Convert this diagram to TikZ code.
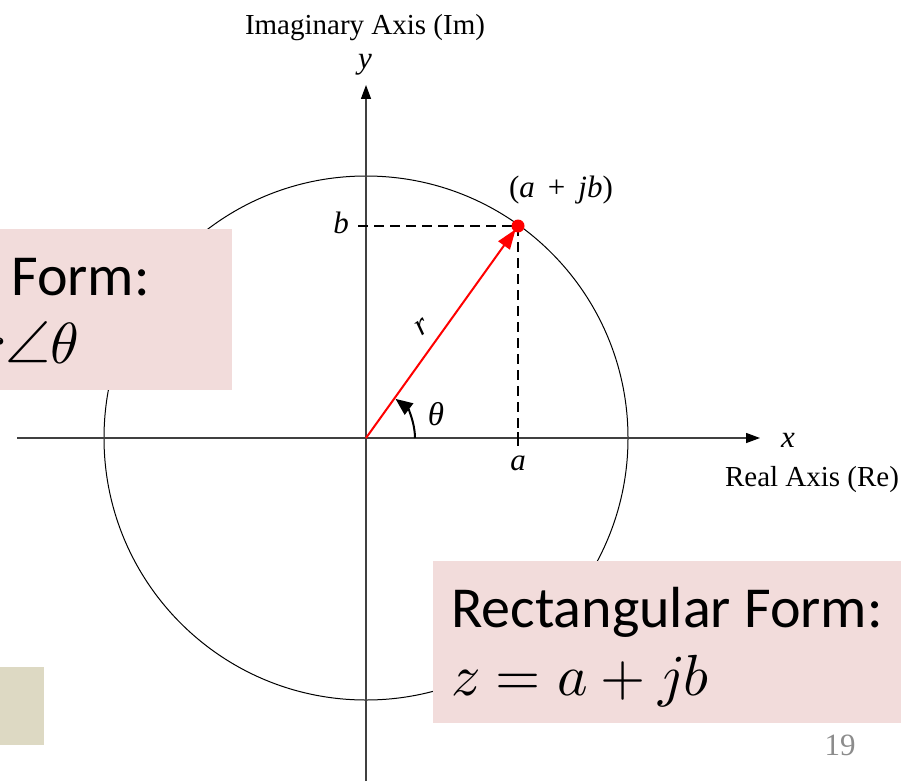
\documentclass[tikz,border=0pt]{standalone}
\usepackage{fontspec}
\usepackage{unicode-math}
\setmathfont{Latin Modern Math}
\setmainfont{Liberation Serif}
\newfontfamily\calibri{Carlito}
\usetikzlibrary{arrows.meta}
\definecolor{pinkbox}{HTML}{F2DCDB}
\definecolor{beigebox}{HTML}{DDD9C3}
\definecolor{axisgray}{HTML}{404040}
\definecolor{pagegray}{HTML}{8C8C8C}
\begin{document}
\begin{tikzpicture}[x=1pt,y=-1pt,
  lbl/.style={font=\fontsize{29}{34}\selectfont, inner sep=0pt},
  varlbl/.style={font=\fontsize{31}{36}\selectfont\itshape, inner sep=0pt},
  boxtxt/.style={font=\calibri\fontsize{58}{70}\selectfont, inner sep=0pt},
  axisline/.style={axisgray, line width=1.3pt, -{Triangle[length=14pt,width=10pt,color=black,fill=black]}},
  dashline/.style={black, line width=1.5pt, dash pattern=on 10pt off 6pt},
  vec/.style={red, line width=2pt, shorten >=4pt, -{Triangle[length=20pt,width=14pt]}},
  anglearrow/.style={black, line width=2pt, -{Triangle[length=17pt,width=14pt]}}]
\useasboundingbox (0,0) rectangle (901,781);
\coordinate (O) at (366,438);
\coordinate (P) at (518,226);
\coordinate (xl) at (17,438);
\coordinate (xr) at (760,438);
\coordinate (yb) at (366,781);
\coordinate (yt) at (366,85);
\coordinate (bt) at (358,226);
\coordinate (at) at (518,432);
\coordinate (tkt) at (518,432);
\coordinate (tkb) at (518,446);
% circle
\draw[black, line width=1pt] (O) circle[radius=262pt];
% axes
\draw[axisline] (xl) -- (xr);
\draw[axisline] (yb) -- (yt);
% projections
\draw[dashline] (bt) -- (P);
\draw[dashline] (P) -- (at);
\draw[black, line width=1.5pt] (tkt) -- (tkb);
% vector
\draw[vec] (O) -- (P);
\fill[red] (P) circle[radius=6.5pt];
% angle arc
\draw[anglearrow] ([xshift=49pt]O) arc[start angle=0, end angle=53, radius=49pt];
% labels
\node[lbl, anchor=base] (imlbl) at (365,35) {Imaginary Axis (Im)};
\node[varlbl, anchor=base] (ylbl) at (365,69) {y};
\node[lbl, anchor=base] (relbl) at (812,486) {Real Axis (Re)};
\node[varlbl, anchor=base] (xlbl) at (788,447) {x};
\node[lbl, font=\fontsize{31}{36}\selectfont, anchor=base] (plbl) at (561,197) {(\textit{a}\hspace{0.42em}+\hspace{0.42em}\textit{jb})};
\node[varlbl, anchor=base] (blbl) at (341,233) {b};
\node[varlbl, anchor=base] (albl) at (518,470) {a};
\node[varlbl, anchor=base, font=\fontsize{33}{38}\selectfont\itshape] (thlbl) at (436,425) {θ};
\node[varlbl, rotate=35] (rlbl) at (422,327) {r};
% boxes
\fill[pinkbox] (0,229) rectangle (232,390);
\fill[pinkbox] (433,561) rectangle (901,723);
\fill[beigebox] (0,667) rectangle (44,745);
\begin{scope}
\clip (0,229) rectangle (232,390);
\node[boxtxt, anchor=base east] (polar1) at (150,295) {Polar Form:};
\node[boxtxt, anchor=base east] (polar2) at (79,363) {$z = r\angle\theta$};
\end{scope}
\node[boxtxt, anchor=base west] (rect1) at (451,627) {Rectangular Form:};
\node[boxtxt, anchor=base west] (rect2) at (451,695) {$z = a + jb$};
\node[font=\fontsize{31}{36}\selectfont, text=pagegray, anchor=base, inner sep=0pt] (pg) at (840,755) {19};
\end{tikzpicture}
\end{document}
